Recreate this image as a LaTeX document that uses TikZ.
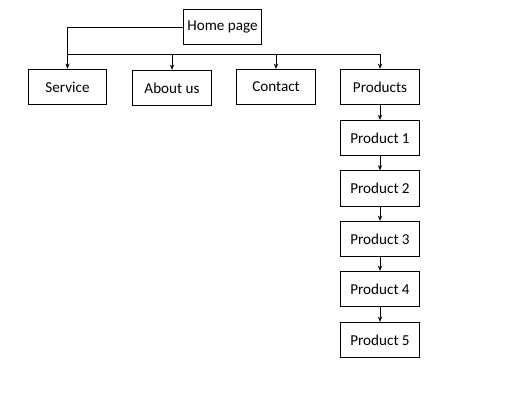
\documentclass[tikz,border=0pt]{standalone}
\usepackage{fontspec}
\setmainfont{Carlito}
\usepackage{tikz}
\usetikzlibrary{arrows.meta}
\tikzset{
    page/.style={rectangle, draw, line width=0.6pt, inner sep=0mm, minimum width=2.07cm, minimum height=0.94cm, font=\fontsize{11.4}{13}\selectfont}
}
\tikzset{link/.style={line width=0.6pt, -{Stealth[length=4pt, width=3.2pt]}}}

\begin{document}
\begin{tikzpicture}
    \useasboundingbox (0cm, 0cm) rectangle (13.44cm, 10.77cm);
    \node (home) [page] at (5.887cm, 10.054cm) {Home page};
    \node (service) [page] at (1.786cm, 8.467cm) {Service};
    \node (about) [page] at (4.551cm, 8.440cm) {About us};
    \node (contact) [page] at (7.302cm, 8.467cm) {Contact};
    \node (products) [page] at (10.054cm, 8.467cm) {Products};
    \node (p1) [page] at (10.054cm, 7.117cm) {Product 1};
    \node (p2) [page] at (10.054cm, 5.781cm) {Product 2};
    \node (p3) [page] at (10.054cm, 4.445cm) {Product 3};
    \node (p4) [page] at (10.054cm, 3.122cm) {Product 4};
    \node (p5) [page] at (10.054cm, 1.773cm) {Product 5};

    \coordinate (bus) at (0cm, 9.340cm);

    \draw [link] (home.west) -| (service.north);
    \draw [line width=0.6pt] (service.north |- bus) -- (products.north |- bus);
    \draw [link] (about.north |- bus) -- (about.north);
    \draw [link] (contact.north |- bus) -- (contact.north);
    \draw [link] (products.north |- bus) -- (products.north);
    \draw [link] (products) -- (p1);
    \draw [link] (p1) -- (p2);
    \draw [link] (p2) -- (p3);
    \draw [link] (p3) -- (p4);
    \draw [link] (p4) -- (p5);
\end{tikzpicture}
\end{document}
